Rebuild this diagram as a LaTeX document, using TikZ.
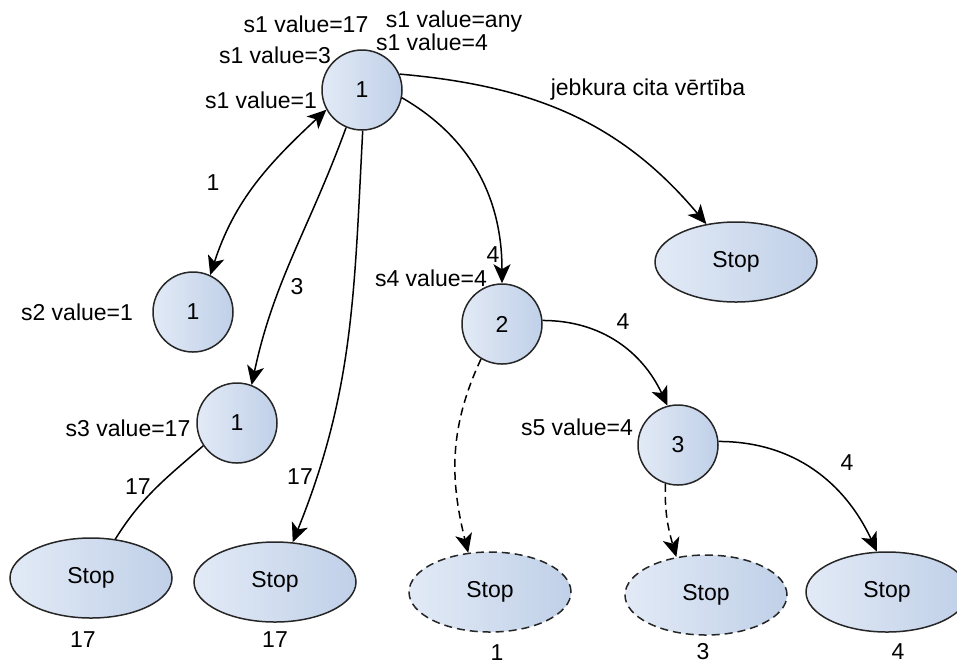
\documentclass[tikz,border=0pt]{standalone}
\usepackage{fontspec}
\setmainfont{Liberation Sans}
\usetikzlibrary{shapes.geometric, arrows.meta, positioning}
\definecolor{statelight}{RGB}{226,234,246}
\definecolor{statedark}{RGB}{192,208,232}
\tikzset{
    statenode/.style={circle, draw=black!85, line width=0.75pt, left color=statelight, right color=statedark, minimum size=40pt, inner sep=0pt, font=\fontsize{11.5}{13}\selectfont},
    stopnode/.style={ellipse, draw=black!85, line width=0.75pt, left color=statelight, right color=statedark, minimum width=81pt, minimum height=40pt, inner sep=0pt, font=\fontsize{11.5}{13}\selectfont},
    stopdash/.style={stopnode, dash pattern=on 4pt off 2.5pt},
    trarrow/.style={-{Stealth[length=9.5pt, width=8.5pt, inset=2.5pt]}, line width=0.75pt},
    trdarrow/.style={{Stealth[length=9.5pt, width=8.5pt, inset=2.5pt]}-{Stealth[length=9.5pt, width=8.5pt, inset=2.5pt]}, line width=0.75pt},
    trdash/.style={trarrow, dash pattern=on 4pt off 2.5pt},
    trline/.style={line width=0.75pt},
    vallabel/.style={font=\fontsize{11.5}{13}\selectfont, inner sep=0pt}
}

\begin{document}
\begin{tikzpicture}[x=0.5pt, y=-0.5pt]
\clip (0,0) rectangle (957,666);

% states
\node[statenode] (s1) at (362,90) {1};
\node[statenode] (s2) at (193,312) {1};
\node[statenode] (s3) at (237,423) {1};
\node[statenode] (s4) at (502,324) {2};
\node[statenode] (s5) at (678,445) {3};

% stops
\node[stopnode] (stopAny) at (736,262) {Stop};
\node[stopnode] (stopS3) at (91,578) {Stop};
\node[stopnode] (stopS1) at (275,582) {Stop};
\node[stopdash] (stopS4) at (490,592) {Stop};
\node[stopdash] (stopS5a) at (706,595) {Stop};
\node[stopnode] (stopS5b) at (887,592) {Stop};

% state values
\node[vallabel] (v17) at (306,24) {s1 value=17};
\node[vallabel] (vany) at (454,22) {s1 value=any};
\node[vallabel] (v3) at (275,55) {s1 value=3};
\node[vallabel] (v4) at (432,42) {s1 value=4};
\node[vallabel] (v1) at (261,100) {s1 value=1};
\node[vallabel] (vs2) at (77,312) {s2 value=1};
\node[vallabel] (vs3) at (128,428) {s3 value=17};
\node[vallabel] (vs4) at (431,278) {s4 value=4};
\node[vallabel] (vs5) at (577,427) {s5 value=4};

% outputs
\node[vallabel] (o1) at (83,640) {17};
\node[vallabel] (o2) at (275,640) {17};
\node[vallabel] (o3) at (497,653) {1};
\node[vallabel] (o4) at (703,652) {3};
\node[vallabel] (o5) at (898,652) {4};

% transitions
\draw[trdarrow] (s1.209) to[out=223, in=72] (s2.65);
\draw[trarrow] (s1.247) to[out=250, in=78] (s3.69);
\draw[trarrow] (s1.271) to[out=267, in=68] (stopS1.66);
\draw[trarrow] (s1.349) to[out=-30, in=90] (s4.north);
\draw[trarrow] (s1.23) to[out=-5, in=130] (stopAny.128);
\draw[trline] (s3.214) to[out=221, in=58] (stopS3.58);
\draw[trdash] (s4.239) to[out=245, in=104] (stopS4.119);
\draw[trarrow] (s4.5) to[out=0, in=115] (s5.105);
\draw[trdash] (s5.252) to[out=268, in=106] (stopS5a.128);
\draw[trarrow] (s5.5) to[out=0, in=115] (stopS5b.104);

% transition labels
\node[vallabel] (t1) at (213,183) {1};
\node[vallabel] (t3) at (297,287) {3};
\node[vallabel] (t17) at (300,477) {17};
\node[vallabel] (t4a) at (493,255) {4};
\node[vallabel] (tany) at (648,90) {jebkura cita vērtība};
\node[vallabel] (t17b) at (138,487) {17};
\node[vallabel] (t4b) at (623,322) {4};
\node[vallabel] (t4c) at (847,463) {4};

\end{tikzpicture}
\end{document}
